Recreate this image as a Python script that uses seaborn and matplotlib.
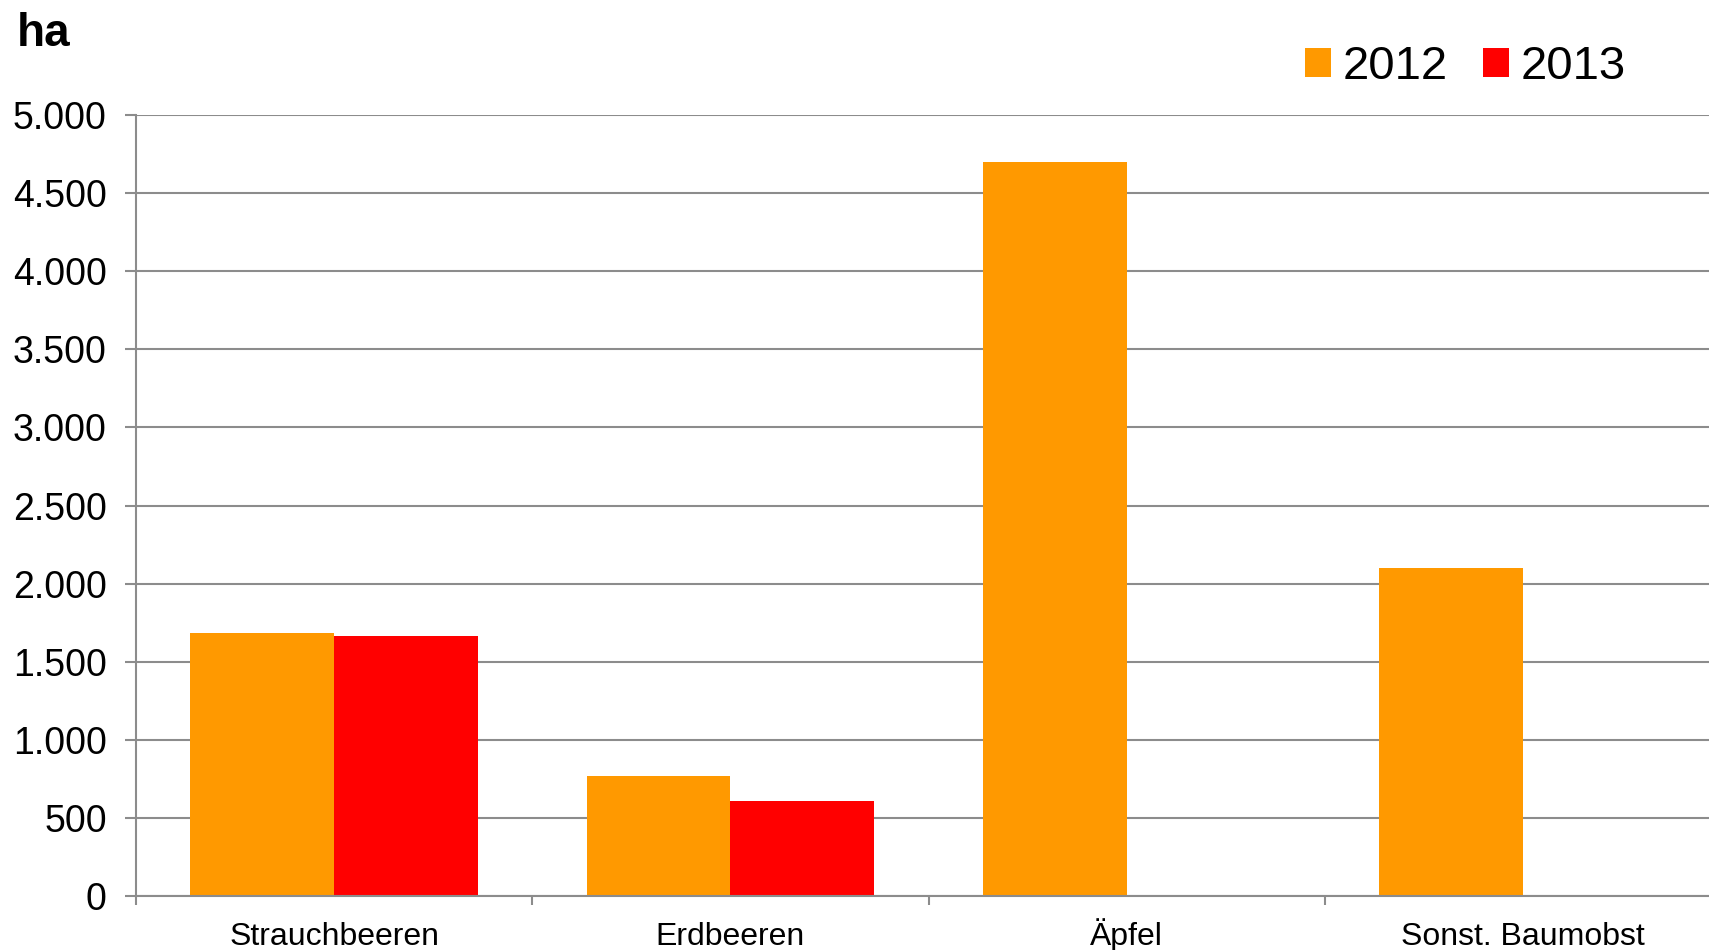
import matplotlib
matplotlib.use("Agg")
import matplotlib.pyplot as plt
import seaborn as sns
import pandas as pd
from matplotlib.patches import Patch

categories = ["Strauchbeeren", "Erdbeeren", "Äpfel", "Sonst. Baumobst"]
years = ["2012", "2013"]
values_2012 = [1685, 770, 4700, 2100]
values_2013 = [1667, 612, None, None]
y_ticks = [0, 500, 1000, 1500, 2000, 2500, 3000, 3500, 4000, 4500, 5000]
y_tick_labels = ["0", "500", "1.000", "1.500", "2.000", "2.500", "3.000", "3.500", "4.000", "4.500", "5.000"]
colors = {"2012": "#FF9900", "2013": "#FF0000"}

rows = []
for c, v in zip(categories, values_2012):
    rows.append({"cat": c, "year": "2012", "val": v})
for c, v in zip(categories, values_2013):
    rows.append({"cat": c, "year": "2013", "val": v})
df = pd.DataFrame(rows)

sns.set_theme(style="white")
plt.rcParams["font.family"] = ["Liberation Sans", "DejaVu Sans"]
plt.rcParams["text.color"] = "black"

W, H = 1709, 950
fig = plt.figure(figsize=(W / 100, H / 100), dpi=100)
left_px, right_px = 136, 1721
bottom_px, top_px = 896.3, 114.8
ax = fig.add_axes([left_px / W, (H - bottom_px) / H, (right_px - left_px) / W, (bottom_px - top_px) / H])

sns.barplot(data=df, x="cat", y="val", hue="year", hue_order=years, order=categories,
            palette=colors, width=0.726, saturation=1, dodge=True, ax=ax, legend=False,
            linewidth=0, errorbar=None)

grid_col = "#8C8C8C"
ax.set_ylim(0, 5000)
ax.set_xlim(-0.5, 3.5)
ax.set_yticks(y_ticks)
ax.set_yticklabels(y_tick_labels)
ax.yaxis.grid(True, color=grid_col, linewidth=1.5)
ax.xaxis.grid(False)
ax.set_axisbelow(True)
for s in ["top", "right"]:
    ax.spines[s].set_visible(False)
for s in ["left", "bottom"]:
    ax.spines[s].set_color(grid_col)
    ax.spines[s].set_linewidth(1.5)

ax.set_xlabel("")
ax.set_ylabel("")
ax.tick_params(axis="y", which="major", length=8, width=1.5, color=grid_col, pad=13,
               labelsize=27, labelcolor="black", left=True)
ax.set_xticks(range(len(categories)))
ax.set_xticklabels(categories)
ax.tick_params(axis="x", which="major", length=0, pad=35, labelsize=23, labelcolor="black")
for lbl in ax.get_xticklabels():
    lbl.set_va("baseline")
ax.set_xticks([-0.5, 0.5, 1.5, 2.5, 3.5], minor=True)
ax.tick_params(axis="x", which="minor", length=6.5, width=1.5, color=grid_col, bottom=True)

fig.text(17 / W, 1 - 34 / H, "ha", fontsize=33, fontweight="bold", ha="left", va="center",
         color="black")

handles = [Patch(facecolor=colors[y], edgecolor="none") for y in years]
leg = fig.legend(handles, years, loc="center left", bbox_to_anchor=(1305 / W, 1 - 67 / H),
                 ncol=2, frameon=False, fontsize=34, handlelength=0.55, handleheight=0.55,
                 handletextpad=0.25, columnspacing=0.75, borderpad=0, borderaxespad=0)
for t in leg.get_texts():
    t.set_color("black")

fig.savefig("out.png", dpi=100)
